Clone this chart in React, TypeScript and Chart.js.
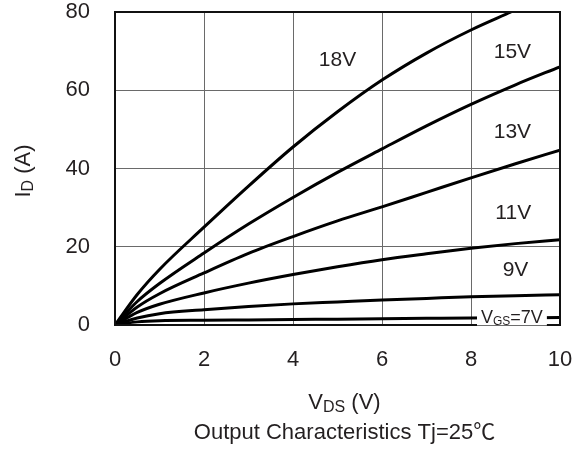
import React, { useEffect, useRef } from "react";
import { Chart, registerables } from "chart.js";

Chart.register(...registerables);

const vdsCommon = [0, 0.5, 1, 2, 3, 4, 5, 6, 7, 8, 9, 10];
const vds18 = [0, 0.5, 1, 2, 3, 4, 5, 6, 7, 8, 8.9];
const id18 = [0, 7.8, 14.2, 25, 35.5, 45.5, 54.5, 62.6, 69.5, 75.4, 80];
const id15 = [0, 6, 10.6, 18.4, 25.8, 32.6, 39, 45, 50.9, 56.4, 61.4, 66];
const id13 = [0, 4.6, 8, 13.3, 18.3, 22.6, 26.6, 30.2, 33.9, 37.6, 41.2, 44.7];
const id11 = [0, 3.2, 5.3, 8.2, 10.7, 12.9, 14.9, 16.7, 18.2, 19.6, 20.8, 21.8];
const id9 = [0, 1.8, 2.9, 3.9, 4.7, 5.4, 5.9, 6.4, 6.8, 7.2, 7.5, 7.7];
const id7 = [0, 0.8, 1.1, 1.2, 1.3, 1.4, 1.5, 1.6, 1.7, 1.8, 1.85, 1.9];

const xTicks = [0, 2, 4, 6, 8, 10];
const yTicks = [0, 20, 40, 60, 80];

const curveLabels = [
  { text: "18V", x: 5.0, y: 67.7 },
  { text: "15V", x: 8.93, y: 69.8 },
  { text: "13V", x: 8.93, y: 49.3 },
  { text: "11V", x: 8.95, y: 28.6 },
  { text: "9V", x: 9.0, y: 14.0 },
];

const FONT = "'Liberation Sans', Arial, sans-serif";
const TXT = "#231f20";

function toPts(xs: number[], ys: number[]) {
  return ys.map((y, i) => ({ x: xs[i], y }));
}

const decorPlugin = {
  id: "decor",
  afterDatasetsDraw(chart: any) {
    const { ctx, chartArea, scales } = chart;
    const xs = scales.x;
    const ys = scales.y;
    ctx.save();
    ctx.strokeStyle = "#111";
    ctx.lineWidth = 2;
    ctx.strokeRect(chartArea.left, chartArea.top, chartArea.right - chartArea.left, chartArea.bottom - chartArea.top);

    ctx.fillStyle = TXT;
    ctx.font = `21px ${FONT}`;
    ctx.textAlign = "center";
    ctx.textBaseline = "middle";
    curveLabels.forEach((l) => {
      ctx.fillText(l.text, xs.getPixelForValue(l.x), ys.getPixelForValue(l.y));
    });

    // VGS=7V label with white background
    const lx = xs.getPixelForValue(8.92);
    const ly = ys.getPixelForValue(2.2);
    const big = `18px ${FONT}`;
    const small = `12px ${FONT}`;
    ctx.font = big;
    const wV = ctx.measureText("V").width;
    const wEq = ctx.measureText("=7V").width;
    ctx.font = small;
    const wGS = ctx.measureText("GS").width;
    const total = wV + wGS + wEq;
    ctx.fillStyle = "#fff";
    ctx.fillRect(lx - total / 2 - 4, ly - 12, total + 8, 21);
    ctx.fillStyle = TXT;
    ctx.textAlign = "left";
    ctx.textBaseline = "alphabetic";
    let cx = lx - total / 2;
    const base = ly + 6.5;
    ctx.font = big;
    ctx.fillText("V", cx, base);
    cx += wV;
    ctx.font = small;
    ctx.fillText("GS", cx, base + 2);
    cx += wGS;
    ctx.font = big;
    ctx.fillText("=7V", cx, base);

    // x title
    const t1 = `22px ${FONT}`;
    const t2 = `16px ${FONT}`;
    ctx.font = t1;
    const a = ctx.measureText("V").width;
    const c = ctx.measureText(" (V)").width;
    ctx.font = t2;
    const b = ctx.measureText("DS").width;
    let px = 344.5 - (a + b + c) / 2;
    const xb = 409;
    ctx.font = t1;
    ctx.fillText("V", px, xb);
    px += a;
    ctx.font = t2;
    ctx.fillText("DS", px, xb + 3);
    px += b;
    ctx.font = t1;
    ctx.fillText(" (V)", px, xb);

    // caption
    const cap = "Output Characteristics Tj=25";
    const degFont = `22px 'Noto Sans CJK SC', ${FONT}`;
    ctx.font = t1;
    const wc = ctx.measureText(cap).width;
    ctx.font = degFont;
    const wd = ctx.measureText("℃").width;
    const qx0 = 344.5 - (wc + wd) / 2;
    ctx.font = t1;
    ctx.fillText(cap, qx0, 439);
    ctx.font = degFont;
    ctx.fillText("℃", qx0 + wc, 439);

    // y title rotated
    ctx.save();
    ctx.translate(22, 171);
    ctx.rotate(-Math.PI / 2);
    ctx.textAlign = "left";
    ctx.font = t1;
    const ya = ctx.measureText("I").width;
    const yc = ctx.measureText(" (A)").width;
    ctx.font = t2;
    const yb = ctx.measureText("D").width;
    let qx = -(ya + yb + yc) / 2;
    const qb = 8;
    ctx.font = t1;
    ctx.fillText("I", qx, qb);
    qx += ya;
    ctx.font = t2;
    ctx.fillText("D", qx, qb + 3);
    qx += yb;
    ctx.font = t1;
    ctx.fillText(" (A)", qx, qb);
    ctx.restore();

    ctx.restore();
  },
};

export default function App() {
  const ref = useRef<HTMLCanvasElement | null>(null);
  useEffect(() => {
    document.body.style.margin = "0";
    const ds = (xs: number[], ys: number[]) => ({
      data: toPts(xs, ys),
      borderColor: "#000",
      borderWidth: 3,
      pointRadius: 0,
      fill: false,
      cubicInterpolationMode: "monotone" as const,
    });
    const zeroPad = (s: any) => {
      s.paddingLeft = 0;
      s.paddingRight = 0;
      s.paddingTop = 0;
      s.paddingBottom = 0;
    };
    const chart = new Chart(ref.current as HTMLCanvasElement, {
      type: "line",
      data: {
        datasets: [
          ds(vds18, id18),
          ds(vdsCommon, id15),
          ds(vdsCommon, id13),
          ds(vdsCommon, id11),
          ds(vdsCommon, id9),
          ds(vdsCommon, id7),
        ],
      },
      options: {
        animation: false,
        responsive: false,
        layout: { padding: { left: 0, right: 14, top: 12, bottom: 0 } },
        plugins: { legend: { display: false }, tooltip: { enabled: false } },
        scales: {
          x: {
            type: "linear",
            min: 0,
            max: 10,
            afterBuildTicks: (s: any) => {
              s.ticks = xTicks.map((v) => ({ value: v }));
            },
            afterFit: (s: any) => {
              s.height = 127;
              zeroPad(s);
            },
            ticks: { font: { family: FONT, size: 22 }, color: TXT, padding: 22, maxRotation: 0 },
            grid: { color: "#6a6a6a", lineWidth: 1, drawTicks: false },
            border: { display: true, color: "#111", width: 2 },
          },
          y: {
            type: "linear",
            min: 0,
            max: 80,
            afterBuildTicks: (s: any) => {
              s.ticks = yTicks.map((v) => ({ value: v }));
            },
            afterFit: (s: any) => {
              s.width = 115;
              zeroPad(s);
            },
            ticks: { font: { family: FONT, size: 22 }, color: TXT, padding: 25 },
            grid: { color: "#6a6a6a", lineWidth: 1, drawTicks: false },
            border: { display: true, color: "#111", width: 2 },
          },
        },
      },
      plugins: [decorPlugin],
    });
    return () => chart.destroy();
  }, []);
  return (
    <div style={{ position: "absolute", left: 0, top: 0, width: 574, height: 452, background: "#fff" }}>
      <canvas ref={ref} width={574} height={452} />
    </div>
  );
}
